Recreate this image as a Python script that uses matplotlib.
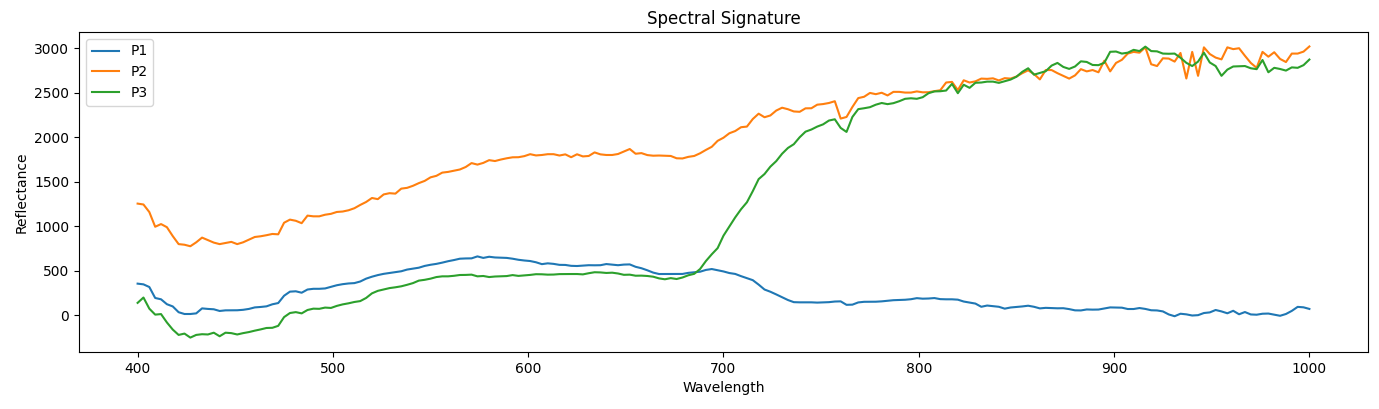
import numpy as np
import matplotlib
matplotlib.use("Agg")
import matplotlib.pyplot as plt

# band centres (nm), one every 3 nm
wavelengths = np.arange(400, 1001, 3)

p1 = [356, 348, 318, 195, 180, 125, 100, 35, 15, 15,
      22, 78, 72, 68, 49, 56, 56, 57, 62, 72,
      89, 94, 101, 124, 138, 220, 266, 270, 254, 290,
      298, 298, 302, 320, 338, 350, 358, 362, 380, 412,
      434, 452, 466, 476, 486, 495, 514, 524, 535, 555,
      568,
      578, 592, 608, 621, 636, 639, 640, 662, 645, 658,
      650, 648, 645, 636, 624, 616, 610, 596, 575, 584,
      578, 567, 566, 556, 554, 559, 563, 562, 563, 576,
      569, 563, 570, 572, 545, 529, 506, 480, 464, 464,
      464, 464, 465, 477, 483, 490, 510, 520, 507, 493,
      475,
      465, 440, 418, 395, 345, 290, 265, 235, 203, 172,
      148, 146, 146, 146, 143, 146, 148, 155, 157, 118,
      120, 145, 152, 153, 153, 157, 163, 170, 172, 175,
      181, 193, 187, 189, 194, 182, 180, 180, 176, 155,
      143, 132, 96, 110, 103, 96, 75, 88, 94, 100,
      108,
      96, 78, 84, 82, 79, 80, 70, 56, 55, 66,
      64, 65, 77, 89, 87, 86, 71, 71, 82, 72,
      57, 55, 44, 10, -10, 18, 11, -2, 2, 26,
      33, 60, 44, 23, 51, 12, 37, 10, 7, 18,
      20, 7, -5, 15, 50, 95, 90, 72]

p2 = [1255, 1245, 1160, 995, 1025, 990, 890, 800, 793, 776,
      820, 873, 845, 817, 800, 812, 825, 800, 820, 850,
      880, 888, 900, 914, 910, 1040, 1075, 1062, 1035, 1120,
      1112, 1112, 1130, 1140, 1161, 1166, 1180, 1203, 1240, 1273,
      1318, 1305, 1358, 1372, 1367, 1423, 1432, 1455, 1485, 1510,
      1550,
      1567, 1603, 1611, 1624, 1638, 1666, 1710, 1693, 1712, 1743,
      1733, 1750, 1764, 1775, 1776, 1788, 1810, 1796, 1801, 1810,
      1810, 1795, 1808, 1776, 1809, 1785, 1790, 1830, 1808, 1801,
      1801, 1812, 1840, 1868, 1815, 1822, 1800, 1793, 1795, 1793,
      1790, 1764, 1762, 1780, 1790, 1820, 1858, 1893, 1960, 1995,
      2045,
      2070, 2113, 2120, 2205, 2265, 2225, 2245, 2300, 2332, 2315,
      2290, 2286, 2325, 2326, 2366, 2373, 2385, 2405, 2210, 2228,
      2340, 2440, 2455, 2498, 2484, 2500, 2470, 2510, 2510, 2502,
      2502, 2515, 2505, 2506, 2518, 2528, 2615, 2622, 2530, 2640,
      2615, 2628, 2659, 2656, 2662, 2638, 2664, 2659, 2682, 2720,
      2752,
      2710, 2650, 2755, 2755, 2720, 2690, 2659, 2695, 2765, 2740,
      2755, 2730, 2860, 2740, 2835, 2870, 2940, 2959, 2950, 3010,
      2820, 2800, 2887, 2884, 2850, 2947, 2660, 2959, 2690, 3010,
      2935, 2895, 2875, 3010, 2990, 3000, 2915, 2835, 2780, 2959,
      2905, 2955, 2880, 2845, 2940, 2940, 2962, 3020]

p3 = [140, 200, 75, 8, 14, -80, -160, -220, -205, -250,
      -220, -212, -215, -195, -235, -195, -200, -215, -200, -188,
      -172, -158, -142, -140, -118, -20, 26, 36, 22, 60,
      75, 73, 87, 83, 106, 123, 135, 150, 160, 195,
      247, 275, 290, 306, 315, 326, 343, 362, 390, 399,
      412,
      430, 438, 438, 444, 453, 454, 457, 438, 442, 430,
      436, 438, 441, 452, 443, 448, 454, 462, 461, 457,
      458, 463, 464, 464, 464, 460, 473, 484, 482, 476,
      479, 470, 455, 457, 445, 446, 442, 434, 415, 405,
      418, 408, 425, 450, 466, 520, 610, 686, 755, 895,
      997,
      1100, 1192, 1270, 1395, 1530, 1587, 1670, 1732, 1815, 1880,
      1922, 2000, 2063, 2087, 2120, 2145, 2188, 2202, 2105, 2060,
      2228, 2316, 2326, 2338, 2366, 2385, 2372, 2383, 2405, 2432,
      2438, 2432, 2450, 2495, 2515, 2517, 2525, 2600, 2495, 2590,
      2555, 2612, 2615, 2625, 2625, 2611, 2630, 2648, 2680, 2735,
      2775,
      2703, 2722, 2742, 2805, 2835, 2790, 2768, 2795, 2853, 2846,
      2812, 2810, 2837, 2960, 2963, 2940, 2950, 2982, 2968, 3018,
      2968, 2965, 2940, 2938, 2940, 2893, 2836, 2800, 2850, 2950,
      2840, 2800, 2690, 2760, 2795, 2798, 2800, 2775, 2765, 2868,
      2730, 2780, 2767, 2749, 2785, 2780, 2810, 2873]

fig, ax = plt.subplots(figsize=(13.79, 4.09), dpi=100)
fig.subplots_adjust(left=0.0573, right=0.992, top=0.922, bottom=0.139)

ax.plot(wavelengths, p1, label="P1")
ax.plot(wavelengths, p2, label="P2")
ax.plot(wavelengths, p3, label="P3")

ax.set_title("Spectral Signature")
ax.set_xlabel("Wavelength")
ax.set_ylabel("Reflectance")
ax.legend(loc="upper left")

fig.savefig("out.png", dpi=100)
